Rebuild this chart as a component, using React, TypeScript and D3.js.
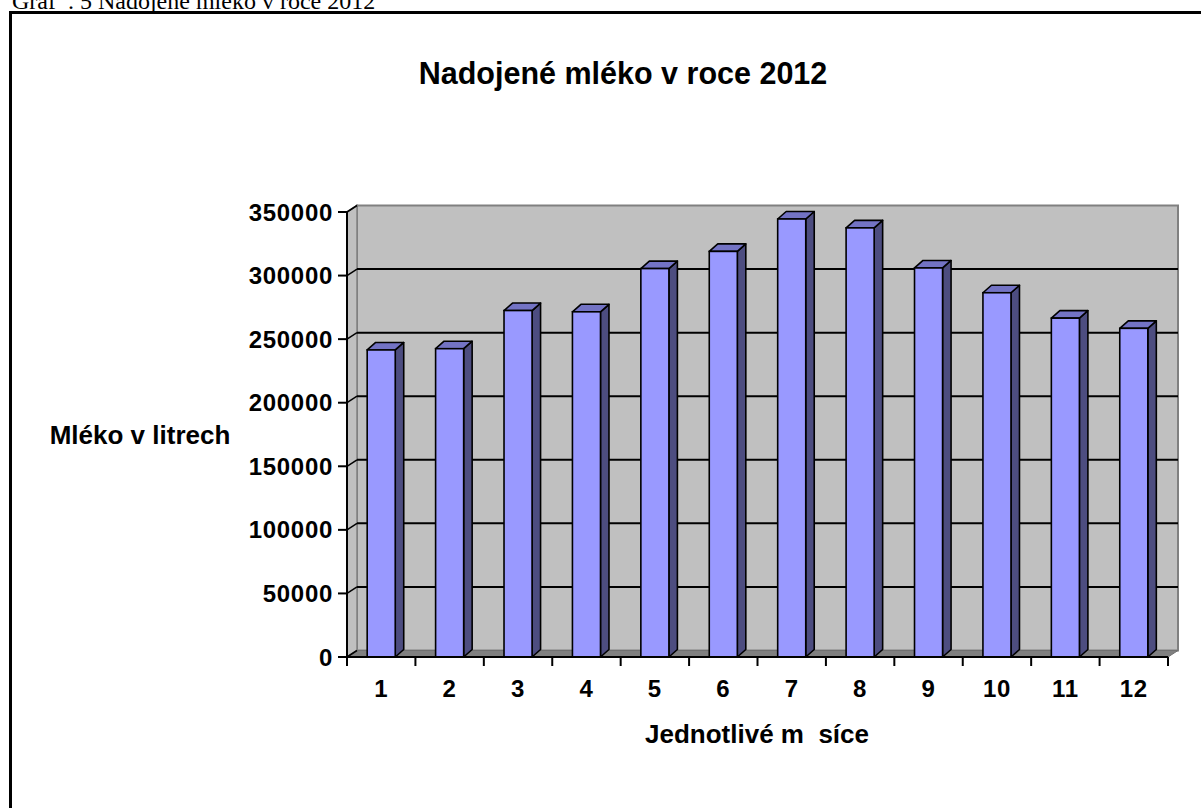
import React, { useEffect, useRef } from "react";
import * as d3 from "d3";

// Chart data
const months: string[] = ["1", "2", "3", "4", "5", "6", "7", "8", "9", "10", "11", "12"];
const milk: number[] = [241500, 242500, 272500, 271500, 305500, 319000, 344500, 337500, 306000, 286500, 266500, 258500];
const yTicks: number[] = [0, 50000, 100000, 150000, 200000, 250000, 300000, 350000];

const caption = "Graf  . 5 Nadojené mléko v roce 2012";
const title = "Nadojené mléko v roce 2012";
const yTitle = "Mléko v litrech";
const xTitle = "Jednotlivé m  síce";

const App: React.FC = () => {
  const svgRef = useRef<SVGSVGElement>(null);

  useEffect(() => {
    const svg = d3.select(svgRef.current);
    svg.selectAll("*").remove();

    const sans = "'Liberation Sans', Arial, sans-serif";

    // plot geometry (front plane) and 3d depth offsets
    const left = 347;
    const right = 1168;
    const bottom = 657;
    const top = 212;
    const wdx = 10;
    const wdy = -6.5;
    const bdx = 8.5;
    const bdy = -7.5;

    const y = d3.scaleLinear().domain([0, 350000]).range([bottom, top]);
    const x = d3
      .scaleBand<string>()
      .domain(months)
      .range([left, right])
      .paddingInner(0.59)
      .paddingOuter(0.295);
    const xEdge = d3.scaleLinear().domain([0, months.length]).range([left, right]);

    // caption above the frame
    svg
      .append("text")
      .attr("x", 12)
      .attr("y", 9)
      .attr("font-family", "'Liberation Serif', 'Times New Roman', serif")
      .attr("font-size", 24)
      .style("white-space", "pre")
      .text(caption);

    // frame
    svg
      .append("path")
      .attr("d", "M10.5,808 V12.5 H1201")
      .attr("fill", "none")
      .attr("stroke", "#000")
      .attr("stroke-width", 3);

    // title
    svg
      .append("text")
      .attr("x", 623)
      .attr("y", 84)
      .attr("text-anchor", "middle")
      .attr("font-family", sans)
      .attr("font-weight", "bold")
      .attr("font-size", 30.5)
      .text(title);

    // back wall
    svg
      .append("rect")
      .attr("x", left + wdx)
      .attr("y", top + wdy)
      .attr("width", right - left)
      .attr("height", bottom - top)
      .attr("fill", "#c0c0c0")
      .attr("stroke", "#808080")
      .attr("stroke-width", 2);

    // left wall
    svg
      .append("path")
      .attr(
        "d",
        `M${left},${bottom} V${top} L${left + wdx},${top + wdy} V${bottom + wdy} Z`
      )
      .attr("fill", "#c0c0c0")
      .attr("stroke", "#808080")
      .attr("stroke-width", 1.5);

    // floor
    svg
      .append("path")
      .attr(
        "d",
        `M${left},${bottom} H${right} L${right + wdx},${bottom + wdy} H${left + wdx} Z`
      )
      .attr("fill", "#808080")
      .attr("stroke", "#707070")
      .attr("stroke-width", 1);

    // gridlines
    const grid = yTicks.filter((t) => t > 0 && t < 350000);
    svg
      .append("g")
      .selectAll("line")
      .data(grid)
      .enter()
      .append("line")
      .attr("x1", left + wdx)
      .attr("x2", right + wdx)
      .attr("y1", (d) => y(d) + wdy)
      .attr("y2", (d) => y(d) + wdy)
      .attr("stroke", "#000")
      .attr("stroke-width", 2);

    // gridline diagonals on the left wall
    svg
      .append("g")
      .selectAll("line")
      .data(yTicks)
      .enter()
      .append("line")
      .attr("x1", left)
      .attr("x2", left + wdx)
      .attr("y1", (d) => y(d))
      .attr("y2", (d) => y(d) + wdy)
      .attr("stroke", "#000")
      .attr("stroke-width", 1.5);

    // bars
    const bars = svg
      .append("g")
      .selectAll("g")
      .data(months.map((m, i) => ({ m, v: milk[i] })))
      .enter()
      .append("g");

    const bw = x.bandwidth();
    bars
      .append("path")
      .attr("d", (d) => {
        const x0 = (x(d.m) as number) + bw;
        const yt = y(d.v);
        return `M${x0},${yt} V${bottom} L${x0 + bdx},${bottom + bdy} V${yt + bdy} Z`;
      })
      .attr("fill", "#4d4d80")
      .attr("stroke", "#000")
      .attr("stroke-width", 1.6)
      .attr("stroke-linejoin", "round");
    bars
      .append("path")
      .attr("d", (d) => {
        const x0 = x(d.m) as number;
        const yt = y(d.v);
        return `M${x0},${yt} H${x0 + bw} L${x0 + bw + bdx},${yt + bdy} H${x0 + bdx} Z`;
      })
      .attr("fill", "#7373c4")
      .attr("stroke", "#000")
      .attr("stroke-width", 1.6)
      .attr("stroke-linejoin", "round");
    bars
      .append("rect")
      .attr("x", (d) => x(d.m) as number)
      .attr("y", (d) => y(d.v))
      .attr("width", bw)
      .attr("height", (d) => bottom - y(d.v))
      .attr("fill", "#9999ff")
      .attr("stroke", "#000")
      .attr("stroke-width", 1.6);

    // y axis
    const yAxis = svg.append("g");
    yAxis
      .append("line")
      .attr("x1", left)
      .attr("x2", left)
      .attr("y1", top)
      .attr("y2", bottom)
      .attr("stroke", "#000")
      .attr("stroke-width", 2);
    yAxis
      .selectAll("line.tick")
      .data(yTicks)
      .enter()
      .append("line")
      .attr("class", "tick")
      .attr("x1", left - 9)
      .attr("x2", left)
      .attr("y1", (d) => y(d))
      .attr("y2", (d) => y(d))
      .attr("stroke", "#000")
      .attr("stroke-width", 2);
    yAxis
      .selectAll("text")
      .data(yTicks)
      .enter()
      .append("text")
      .attr("x", left - 14)
      .attr("y", (d) => y(d) + 8.5)
      .attr("text-anchor", "end")
      .attr("font-family", sans)
      .attr("font-weight", "bold")
      .attr("font-size", 24)
      .attr("letter-spacing", 0.7)
      .text((d) => String(d));

    // x axis
    const xAxis = svg.append("g");
    xAxis
      .append("line")
      .attr("x1", left)
      .attr("x2", right)
      .attr("y1", bottom)
      .attr("y2", bottom)
      .attr("stroke", "#000")
      .attr("stroke-width", 2);
    xAxis
      .selectAll("line.tick")
      .data(d3.range(months.length + 1))
      .enter()
      .append("line")
      .attr("class", "tick")
      .attr("x1", (d) => xEdge(d))
      .attr("x2", (d) => xEdge(d))
      .attr("y1", bottom)
      .attr("y2", bottom + 9)
      .attr("stroke", "#000")
      .attr("stroke-width", 2);
    xAxis
      .selectAll("text")
      .data(months)
      .enter()
      .append("text")
      .attr("x", (d) => (x(d) as number) + bw / 2)
      .attr("y", 697)
      .attr("text-anchor", "middle")
      .attr("font-family", sans)
      .attr("font-weight", "bold")
      .attr("font-size", 24)
      .attr("letter-spacing", 0.7)
      .text((d) => d);

    // axis titles
    svg
      .append("text")
      .attr("x", 140)
      .attr("y", 444)
      .attr("text-anchor", "middle")
      .attr("font-family", sans)
      .attr("font-weight", "bold")
      .attr("font-size", 26)
      .text(yTitle);
    svg
      .append("text")
      .attr("x", 757)
      .attr("y", 743)
      .attr("text-anchor", "middle")
      .attr("font-family", sans)
      .attr("font-weight", "bold")
      .attr("font-size", 26)
      .style("white-space", "pre")
      .text(xTitle);
  }, []);

  return (
    <svg
      ref={svgRef}
      width={1201}
      height={808}
      style={{ position: "absolute", left: 0, top: 0, background: "#fff" }}
    ></svg>
  );
};

export default App;
